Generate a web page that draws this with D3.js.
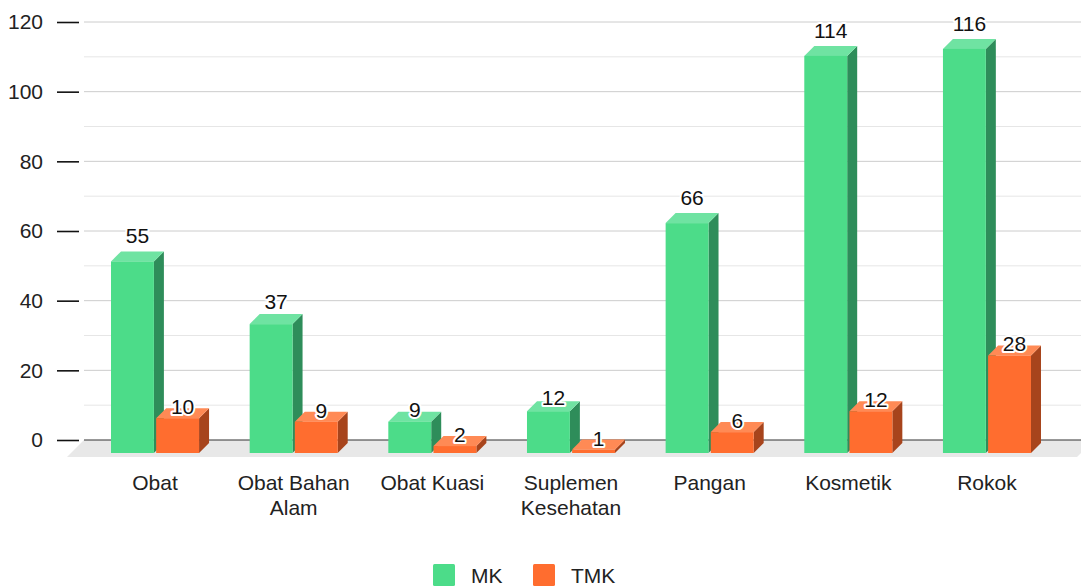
<!DOCTYPE html>
<html>
<head>
<meta charset="utf-8">
<script src="https://cdn.jsdelivr.net/npm/d3@7"></script>
<style>
  body { margin: 0; background: #fff; }
  text { font-family: Arial, "Liberation Sans", sans-serif; }
</style>
</head>
<body>
<script>
const categories = ['Obat', 'Obat Bahan Alam', 'Obat Kuasi', 'Suplemen Kesehatan', 'Pangan', 'Kosmetik', 'Rokok'];
const mk = [55, 37, 9, 12, 66, 114, 116];
const tmk = [10, 9, 2, 1, 6, 12, 28];
const seriesNames = ['MK', 'TMK'];
const yTicks = [0, 20, 40, 60, 80, 100, 120];

const width = 1081;
const height = 587;
const depth = 10;      // bar depth offset
const floorDepth = 17;
const fontSize = 21;

const colors = {
  MK: { front: '#4cdc89', top: '#6fe3a2', side: '#2e8d5a' },
  TMK: { front: '#ff6d2f', top: '#ff8a55', side: '#a7441c' }
};

const data = categories.map((c, i) => ({ cat: c, MK: mk[i], TMK: tmk[i] }));

const y = d3.scaleLinear().domain([0, 120]).range([440, 22]);
// front face of the bars sits lower than the back wall
const yF = d3.scaleLinear().domain([0, 120]).range([453, 453 - 418]);

const x = d3.scaleBand()
  .domain(categories)
  .range([85.7, 1056.3])
  .paddingInner(0.365)
  .paddingOuter(0.1825);

const x1 = d3.scaleBand()
  .domain(seriesNames)
  .range([0, x.bandwidth()])
  .paddingInner(0.05);

const svg = d3.select('body').append('svg')
  .attr('width', width)
  .attr('height', height);

// floor
svg.append('polygon')
  .attr('points', [[84, 440], [84 + 1010, 440], [84 + 1010 - floorDepth, 440 + floorDepth], [84 - floorDepth, 440 + floorDepth]].join(' '))
  .attr('fill', '#e8e8e8');

// minor gridlines
svg.append('g')
  .selectAll('line')
  .data(d3.range(10, 120, 20))
  .join('line')
  .attr('x1', 84).attr('x2', width)
  .attr('y1', d => y(d)).attr('y2', d => y(d))
  .attr('stroke', '#e6e6e6').attr('stroke-width', 1);

// major gridlines
svg.append('g')
  .selectAll('line')
  .data(yTicks.filter(d => d > 0))
  .join('line')
  .attr('x1', 84).attr('x2', width)
  .attr('y1', d => y(d)).attr('y2', d => y(d))
  .attr('stroke', '#cccccc').attr('stroke-width', 1);

// baseline
svg.append('line')
  .attr('x1', 84).attr('x2', width)
  .attr('y1', y(0)).attr('y2', y(0))
  .attr('stroke', '#333').attr('stroke-width', 1.2);

// y axis ticks + labels
const yAxis = g => g
  .attr('transform', 'translate(79,0)')
  .call(d3.axisLeft(y).tickValues(yTicks).tickSize(22).tickPadding(14))
  .call(g => g.select('.domain').remove())
  .call(g => g.selectAll('.tick line').attr('stroke', '#111').attr('stroke-width', 1.6))
  .call(g => g.selectAll('.tick text')
    .attr('fill', '#222')
    .attr('font-size', fontSize)
    .attr('font-family', 'Arial, "Liberation Sans", sans-serif'));

svg.append('g').call(yAxis);

// bars
const bars = svg.append('g');
data.forEach(d => {
  seriesNames.forEach(s => {
    const v = d[s];
    const xf = x(d.cat) + x1(s);
    const w = x1.bandwidth();
    const yt = yF(v);
    const base = yF(0);
    const c = colors[s];
    const g = bars.append('g');
    g.append('polygon')
      .attr('points', [[xf + w, yt], [xf + w + depth, yt - depth], [xf + w + depth, base - depth], [xf + w, base]].join(' '))
      .attr('fill', c.side);
    g.append('polygon')
      .attr('points', [[xf, yt], [xf + depth, yt - depth], [xf + w + depth, yt - depth], [xf + w, yt]].join(' '))
      .attr('fill', c.top);
    g.append('rect')
      .attr('x', xf).attr('y', yt)
      .attr('width', w).attr('height', base - yt)
      .attr('fill', c.front);
  });
});

// value labels
const labels = svg.append('g');
data.forEach(d => {
  seriesNames.forEach(s => {
    const v = d[s];
    const cx = x(d.cat) + x1(s) + x1.bandwidth() / 2 + depth / 2;
    const backTop = yF(v) - depth;
    const off = s === 'MK' ? Math.min(16, v * 0.35) : 2;
    labels.append('text')
      .attr('x', cx)
      .attr('y', backTop - off + 8)
      .attr('text-anchor', 'middle')
      .attr('font-size', fontSize)
      .attr('fill', '#111')
      .attr('stroke', '#fff')
      .attr('stroke-width', 4)
      .attr('stroke-linejoin', 'round')
      .attr('paint-order', 'stroke')
      .text(v);
  });
});

// category labels (wrapped)
const wrapLines = { 'Obat Bahan Alam': ['Obat Bahan', 'Alam'], 'Suplemen Kesehatan': ['Suplemen', 'Kesehatan'] };
const cats = svg.append('g');
categories.forEach(c => {
  const lines = wrapLines[c] || [c];
  const t = cats.append('text')
    .attr('x', x(c) + x.bandwidth() / 2)
    .attr('y', 490)
    .attr('text-anchor', 'middle')
    .attr('font-size', fontSize)
    .attr('fill', '#222');
  lines.forEach((l, i) => {
    t.append('tspan')
      .attr('x', x(c) + x.bandwidth() / 2)
      .attr('dy', i === 0 ? 0 : 25)
      .text(l);
  });
});

// legend
const legend = svg.append('g');
const legendX = [433, 533];
seriesNames.forEach((s, i) => {
  legend.append('rect')
    .attr('x', legendX[i]).attr('y', 564)
    .attr('width', 22).attr('height', 22)
    .attr('rx', 1.5)
    .attr('fill', colors[s].front);
  legend.append('text')
    .attr('x', legendX[i] + 38).attr('y', 583)
    .attr('font-size', fontSize)
    .attr('fill', '#222')
    .text(s);
});
</script>
</body>
</html>
